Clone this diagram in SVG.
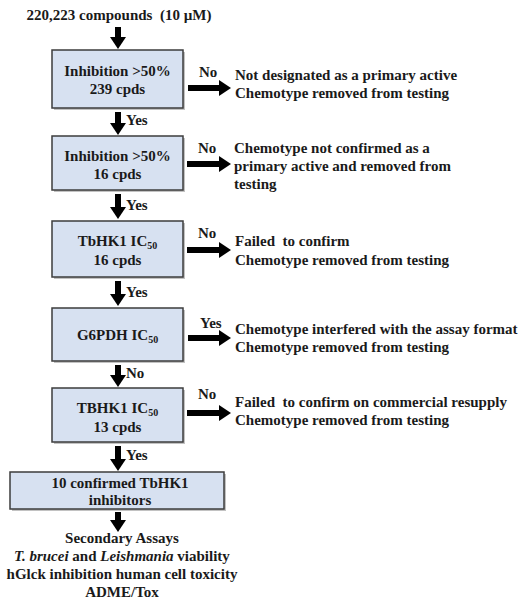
<svg xmlns="http://www.w3.org/2000/svg" width="520" height="600" viewBox="0 0 520 600">
<defs>
<style>
text{font-family:"Liberation Serif","Times New Roman",serif;font-weight:bold;fill:#1a1a1a;font-size:15px;white-space:pre}
.c{text-anchor:middle}
.box{fill:#d7e1f1;stroke:#3d3d3d;stroke-width:1.5}
.sh{fill:#9a9a9a;opacity:0.6}
.arr{stroke:#000;stroke-width:6;fill:none}
.sub{font-size:10px}
</style>
<marker id="ah" markerUnits="userSpaceOnUse" markerWidth="14" markerHeight="16" refX="0" refY="8" orient="auto">
<path d="M0,0 L12,8 L0,16 Z" fill="#000"/>
</marker>
</defs>
<rect width="520" height="600" fill="#fff"/>
<text class="c" x="119" y="20" xml:space="preserve">220,223 compounds  (10 µM)</text>

<g id="n1"><rect class="sh" x="54" y="52" width="131" height="58"/><rect class="box" x="52" y="50" width="131" height="58"/>
<text class="c" x="117.5" y="76">Inhibition &gt;50%</text><text class="c" x="117.5" y="94">239 cpds</text></g>
<g id="n2"><rect class="sh" x="54" y="138" width="131" height="54"/><rect class="box" x="52" y="136" width="131" height="54"/>
<text class="c" x="117.5" y="161">Inhibition &gt;50%</text><text class="c" x="117.5" y="179">16 cpds</text></g>
<g id="n3"><rect class="sh" x="54" y="223" width="131" height="56"/><rect class="box" x="52" y="221" width="131" height="56"/>
<text class="c" x="117.5" y="246">TbHK1 IC<tspan class="sub" dy="3">50</tspan></text><text class="c" x="117.5" y="265">16 cpds</text></g>
<g id="n4"><rect class="sh" x="54" y="310" width="131" height="53"/><rect class="box" x="52" y="308" width="131" height="53"/>
<text class="c" x="117.5" y="340">G6PDH IC<tspan class="sub" dy="3">50</tspan></text></g>
<g id="n5"><rect class="sh" x="54" y="390" width="131" height="54"/><rect class="box" x="52" y="388" width="131" height="54"/>
<text class="c" x="117.5" y="413">TBHK1 IC<tspan class="sub" dy="3">50</tspan></text><text class="c" x="117.5" y="432">13 cpds</text></g>
<g id="n6"><rect class="sh" x="12" y="474" width="214" height="37"/><rect class="box" x="10" y="472" width="214" height="37"/>
<text class="c" x="120" y="488">10 confirmed TbHK1</text><text class="c" x="120" y="505">inhibitors</text></g>

<g id="connectors">
<line class="arr" x1="118" y1="27" x2="118" y2="37" marker-end="url(#ah)"/>
<line class="arr" x1="118" y1="112" x2="118" y2="123" marker-end="url(#ah)"/>
<line class="arr" x1="118" y1="194" x2="118" y2="207" marker-end="url(#ah)"/>
<line class="arr" x1="118" y1="281" x2="118" y2="294" marker-end="url(#ah)"/>
<line class="arr" x1="118" y1="365" x2="118" y2="375" marker-end="url(#ah)"/>
<line class="arr" x1="118" y1="446" x2="118" y2="459" marker-end="url(#ah)"/>
<line class="arr" x1="118" y1="512" x2="118" y2="520" marker-end="url(#ah)"/>
<line class="arr" x1="188" y1="88" x2="219" y2="88" marker-end="url(#ah)"/>
<line class="arr" x1="187" y1="164" x2="219" y2="164" marker-end="url(#ah)"/>
<line class="arr" x1="187" y1="250" x2="219" y2="250" marker-end="url(#ah)"/>
<line class="arr" x1="188" y1="338" x2="219" y2="338" marker-end="url(#ah)"/>
<line class="arr" x1="187" y1="413" x2="219" y2="413" marker-end="url(#ah)"/>
<text x="126" y="125">Yes</text>
<text x="126" y="210">Yes</text>
<text x="126" y="297">Yes</text>
<text x="126" y="378">No</text>
<text x="126" y="460">Yes</text>
<text x="199" y="77">No</text>
<text x="198" y="153">No</text>
<text x="198" y="238">No</text>
<text x="200" y="328">Yes</text>
<text x="198" y="399">No</text>
</g>

<text x="235" y="80">Not designated as a primary active</text>
<text x="235" y="98">Chemotype removed from testing</text>
<text x="234" y="153">Chemotype not confirmed as a</text>
<text x="234" y="171">primary active and removed from</text>
<text x="234" y="189">testing</text>
<text x="235" y="246" xml:space="preserve">Failed  to confirm</text>
<text x="235" y="265">Chemotype removed from testing</text>
<text x="235" y="334">Chemotype interfered with the assay format</text>
<text x="235" y="352">Chemotype removed from testing</text>
<text x="235" y="407" xml:space="preserve">Failed  to confirm on commercial resupply</text>
<text x="235" y="425">Chemotype removed from testing</text>

<text class="c" x="122" y="543">Secondary Assays</text>
<text class="c" x="122" y="561"><tspan font-style="italic">T. brucei</tspan> and <tspan font-style="italic">Leishmania</tspan> viability</text>
<text class="c" x="122" y="579">hGlck inhibition human cell toxicity</text>
<text class="c" x="122" y="597">ADME/Tox</text>
</svg>
